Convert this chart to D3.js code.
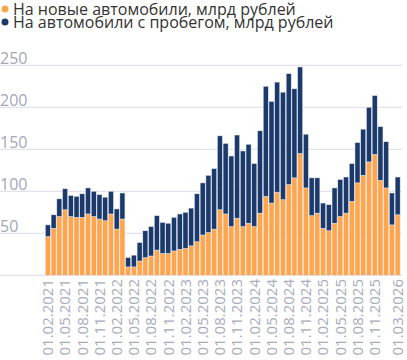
<!DOCTYPE html>
<html><head><meta charset="utf-8">
<script src="https://cdn.jsdelivr.net/npm/d3@7"></script>
<style>body{margin:0;background:#fff;}svg{display:block;font-family:"Open Sans",sans-serif;}</style>
</head><body><svg id="c" width="407" height="360"></svg>
<script>
const categories = ["01.02.2021","01.03.2021","01.04.2021","01.05.2021","01.06.2021","01.07.2021","01.08.2021","01.09.2021","01.10.2021","01.11.2021","01.12.2021",
"01.01.2022","01.02.2022","01.03.2022","01.04.2022","01.05.2022","01.06.2022","01.07.2022","01.08.2022","01.09.2022","01.10.2022","01.11.2022","01.12.2022",
"01.01.2023","01.02.2023","01.03.2023","01.04.2023","01.05.2023","01.06.2023","01.07.2023","01.08.2023","01.09.2023","01.10.2023","01.11.2023","01.12.2023",
"01.01.2024","01.02.2024","01.03.2024","01.04.2024","01.05.2024","01.06.2024","01.07.2024","01.08.2024","01.09.2024","01.10.2024","01.11.2024","01.12.2024",
"01.01.2025","01.02.2025","01.03.2025","01.04.2025","01.05.2025","01.06.2025","01.07.2025","01.08.2025","01.09.2025","01.10.2025","01.11.2025","01.12.2025",
"01.01.2026","01.02.2026","01.03.2026"];
const newCars = [46,56,70,78,70,69,69,73,70,67,65,73,55,67,10,10,17,21,23,30,26,26,29,31,32,35,40,48,51,55,78,73,58,68,58,62,58,74,94,86,99,90,108,116,145,104,71,74,56,53,62,70,74,88,110,119,135,144,113,104,60,72];
const usedCars = [14,16,21,25,25,25,28,31,30,29,28,27,24,31,11,14,22,32,35,41,37,36,40,42,43,45,57,62,68,72,88,84,84,99,90,94,75,98,131,121,131,128,132,106,103,64,45,42,30,31,42,44,43,45,48,55,65,70,64,55,38,45];
const tickLabels = ["01.02.2021","01.05.2021","01.08.2021","01.11.2021","01.02.2022","01.05.2022","01.08.2022","01.11.2022","01.02.2023","01.05.2023","01.08.2023","01.11.2023","01.02.2024","01.05.2024","01.08.2024","01.11.2024","01.02.2025","01.05.2025","01.08.2025","01.11.2025","01.03.2026"];
const yTicks = [0,50,100,150,200,250];
const seriesNames = ["На новые автомобили, млрд рублей","На автомобили с пробегом, млрд рублей"];
const colors = ["#ffa64d","#1b3a6b"];

const svg = d3.select("#c");
const x = d3.scaleBand().domain(categories).range([45,400.5]).paddingInner(0.12).paddingOuter(0.06);
const y = d3.scaleLinear().domain([0,250]).range([275.3,65.3]);

// grid
svg.append("g").selectAll("line").data(yTicks).join("line")
  .attr("x1",0).attr("x2",402).attr("y1",d=>y(d)).attr("y2",d=>y(d))
  .attr("stroke","#dcdce8").attr("stroke-width",1);
svg.append("g").selectAll("text").data(yTicks.filter(d=>d>0)).join("text")
  .attr("x",0).attr("y",d=>y(d)-1).text(d=>d)
  .attr("font-size",16).attr("fill","#a3a6ba");

const rows = categories.map((c,i)=>({cat:c,newCars:newCars[i],usedCars:usedCars[i]}));
const stack = d3.stack().keys(["newCars","usedCars"])(rows);
svg.append("g").selectAll("g").data(stack).join("g")
  .attr("fill",(d,i)=>colors[i])
  .selectAll("rect").data(d=>d).join("rect")
  .attr("x",d=>x(d.data.cat)).attr("width",x.bandwidth())
  .attr("y",d=>y(d[1])).attr("height",d=>y(d[0])-y(d[1]))
  .attr("stroke","#e6e8f0").attr("stroke-width",0.5);

// x labels
svg.append("g").selectAll("text").data(tickLabels).join("text")
  .attr("transform",d=>`translate(${x(d)+x.bandwidth()/2},279) rotate(-90)`)
  .attr("dy","0.36em").attr("text-anchor","end")
  .attr("font-size",15).attr("fill","#a8abbd").text(d=>d);

// legend
const lg = svg.append("g");
seriesNames.forEach((n,i)=>{
  lg.append("circle").attr("cx",5).attr("cy",9+13*i).attr("r",3.5).attr("fill",colors[i]);
  lg.append("text").attr("x",13).attr("y",15+13*i).attr("font-size",16).attr("fill","#333").text(n);
});
</script></body></html>
